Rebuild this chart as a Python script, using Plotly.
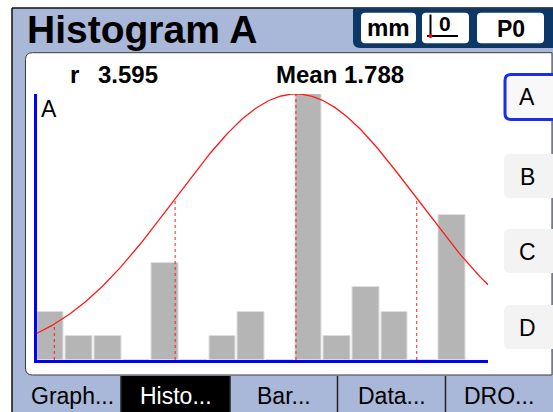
import numpy as np
import plotly.graph_objects as go

# ---------------- data ----------------
counts = [2, 1, 1, 0, 4, 0, 1, 2, 0, 11, 1, 3, 2, 0, 6]
range_r = 3.595
mean_val = 1.788
sigma_val = 1.01
x_min = -0.385
sigma_marks = [-2, -1, 0, 1, 2]
title_text = "Histogram A"
axis_name = "A"
unit_label = "mm"
zero_label = "0"
probe_label = "P0"
side_buttons = ["A", "B", "C", "D"]
tab_labels = ["Graph...", "Histo...", "Bar...", "Data...", "DRO..."]
active_tab = "Histo..."

# ---------------- geometry helpers ----------------
W, H = 553, 412
FONT = "Liberation Sans"
BG = "#a9b8d8"
NAVY = "#0b3867"


def X(p):
    return p / W


def Y(p):
    return 1 - p / H


def rrect(x0, y0, x1, y1, r=(0, 0, 0, 0)):
    tl, tr, br, bl = r
    pts = [
        ("M", [(x0 + tl, y0)]),
        ("L", [(x1 - tr, y0)]),
        ("Q", [(x1, y0), (x1, y0 + tr)]),
        ("L", [(x1, y1 - br)]),
        ("Q", [(x1, y1), (x1 - br, y1)]),
        ("L", [(x0 + bl, y1)]),
        ("Q", [(x0, y1), (x0, y1 - bl)]),
        ("L", [(x0, y0 + tl)]),
        ("Q", [(x0, y0), (x0 + tl, y0)]),
    ]
    s = ""
    for cmd, ps in pts:
        s += cmd + " " + " ".join(f"{X(a):.5f},{Y(b):.5f}" for a, b in ps) + " "
    return s + "Z"


shapes = []


def add_path(path, fill, line_color=None, line_width=0):
    shapes.append(dict(type="path", xref="paper", yref="paper", path=path,
                       fillcolor=fill, layer="below",
                       line=dict(color=line_color or fill, width=line_width)))


def add_line(x0, y0, x1, y1, color, width):
    shapes.append(dict(type="line", xref="paper", yref="paper",
                       x0=X(x0), y0=Y(y0), x1=X(x1), y1=Y(y1), layer="below",
                       line=dict(color=color, width=width)))


def add_rect(x0, y0, x1, y1, fill):
    shapes.append(dict(type="rect", xref="paper", yref="paper",
                       x0=X(x0), y0=Y(y0), x1=X(x1), y1=Y(y1), layer="below",
                       fillcolor=fill, line=dict(width=0)))


annotations = []


def add_text(text, x, y, size, color="black", bold=False, xanchor="center"):
    t = f"<b>{text}</b>" if bold else text
    annotations.append(dict(text=t, xref="paper", yref="paper", x=X(x), y=Y(y),
                            xanchor=xanchor, yanchor="middle", showarrow=False,
                            font=dict(family=FONT, size=size, color=color)))


# ---------------- screen chrome ----------------
add_rect(12, 8, 553, 412, BG)
add_line(12, 8, 12, 412, "#111111", 1.5)
add_line(12, 8, 553, 8, "#111111", 1.5)

# header box
add_path(rrect(353, 8.5, 556, 48, (0, 0, 0, 7)), NAVY)
for bx0, bx1 in [(361, 416), (422, 469), (477, 544)]:
    add_path(rrect(bx0, 12.7, bx1, 43.3, (4, 4, 4, 4)), "white")
add_line(430.5, 14.5, 430.5, 36, "black", 2)
add_line(427, 36, 458, 36, "black", 2)
shapes.append(dict(type="circle", xref="paper", yref="paper",
                   x0=X(428.5), y0=Y(34), x1=X(432.5), y1=Y(38), layer="below",
                   fillcolor="red", line=dict(width=0)))

# white panel
add_path(rrect(25.5, 52.7, 552, 375, (7, 0, 0, 7)), "white", "#3c3c3c", 1)

# side buttons
btn_tops = [74.5, 154, 229, 305]
for lab, top in zip(side_buttons, btn_tops):
    if lab == "A":
        add_path(rrect(505, top, 560, top + 45, (6, 6, 6, 6)), "#f8f8f8", "#1a2fe6", 3)
    else:
        add_path(rrect(504, top, 560, top + 44, (6, 6, 6, 6)), "#f3f3f3")
    add_text(lab, 527, top + 23, 23)

# bottom tabs
tab_edges = [12, 121, 230, 337.5, 445.5, 553]
for i, lab in enumerate(tab_labels):
    x0, x1 = tab_edges[i], tab_edges[i + 1]
    if lab == active_tab:
        add_rect(x0, 376, x1, 412, "black")
    if i > 0:
        add_line(x0, 376, x0, 412, "#222222", 1.5)

# ---------------- chart ----------------
bin_w = range_r / len(counts)
centers = [x_min + bin_w * (i + 0.5) for i in range(len(counts))]
px_per_bin = 28.67
x_lo = x_min + (0.5 / px_per_bin) * bin_w
x_hi = x_min + (452 / px_per_bin) * bin_w
peak = max(counts)

fig = go.Figure()
fig.add_trace(go.Bar(x=centers, y=counts, width=bin_w * 0.93,
                     marker=dict(color="#b5b5b5", line=dict(color="#dedede", width=1)),
                     hoverinfo="skip"))

xs = np.linspace(x_lo, x_hi, 300)
ys = peak * np.exp(-0.5 * ((xs - mean_val) / sigma_val) ** 2)
fig.add_trace(go.Scatter(x=xs, y=ys, mode="lines",
                         line=dict(color="#ff1a1a", width=1.3), hoverinfo="skip"))

vx, vy = [], []
for k in sigma_marks:
    m = mean_val + k * sigma_val
    if x_lo < m < x_hi:
        vx += [m, m, None]
        vy += [0, peak * np.exp(-0.5 * k * k), None]
fig.add_trace(go.Scatter(x=vx, y=vy, mode="lines",
                         line=dict(color="#ff1a1a", width=1, dash="dot"), hoverinfo="skip"))

# texts
add_text(title_text, 25, 29.5, 39, bold=True, xanchor="left")
add_text("r", 68, 74.5, 24, bold=True, xanchor="left")
add_text(f"{range_r:.3f}", 96, 74.5, 24, bold=True, xanchor="left")
add_text(f"Mean {mean_val:.3f}", 274, 74.5, 24, bold=True, xanchor="left")
add_text(unit_label, 388.5, 28, 24, bold=True)
add_text(zero_label, 445, 24, 21, bold=True)
add_text(probe_label, 510.5, 28.5, 23, bold=True)
add_text(axis_name, 39, 109.5, 23, xanchor="left")
for i, lab in enumerate(tab_labels):
    cx = (tab_edges[i] + tab_edges[i + 1]) / 2 + (6 if i == 0 else 0)
    add_text(lab, cx, 396, 23, color="white" if lab == active_tab else "black")

fig.update_layout(
    width=W, height=H, autosize=False,
    margin=dict(l=0, r=0, t=0, b=0, pad=0),
    paper_bgcolor="white", plot_bgcolor="rgba(0,0,0,0)",
    showlegend=False, bargap=0,
    shapes=shapes, annotations=annotations,
    xaxis=dict(domain=[36.5 / W, 488 / W], range=[x_lo, x_hi], showgrid=False,
               zeroline=False, showticklabels=False, ticks="",
               showline=True, linecolor="#0000ff", linewidth=3),
    yaxis=dict(domain=[1 - 360 / H, 1 - 94 / H], range=[0, peak], showgrid=False,
               zeroline=False, showticklabels=False, ticks="",
               showline=True, linecolor="#0000ff", linewidth=3),
)

fig.write_html("out.html", config={"displayModeBar": False},
               post_script="document.body.style.margin='0';")
